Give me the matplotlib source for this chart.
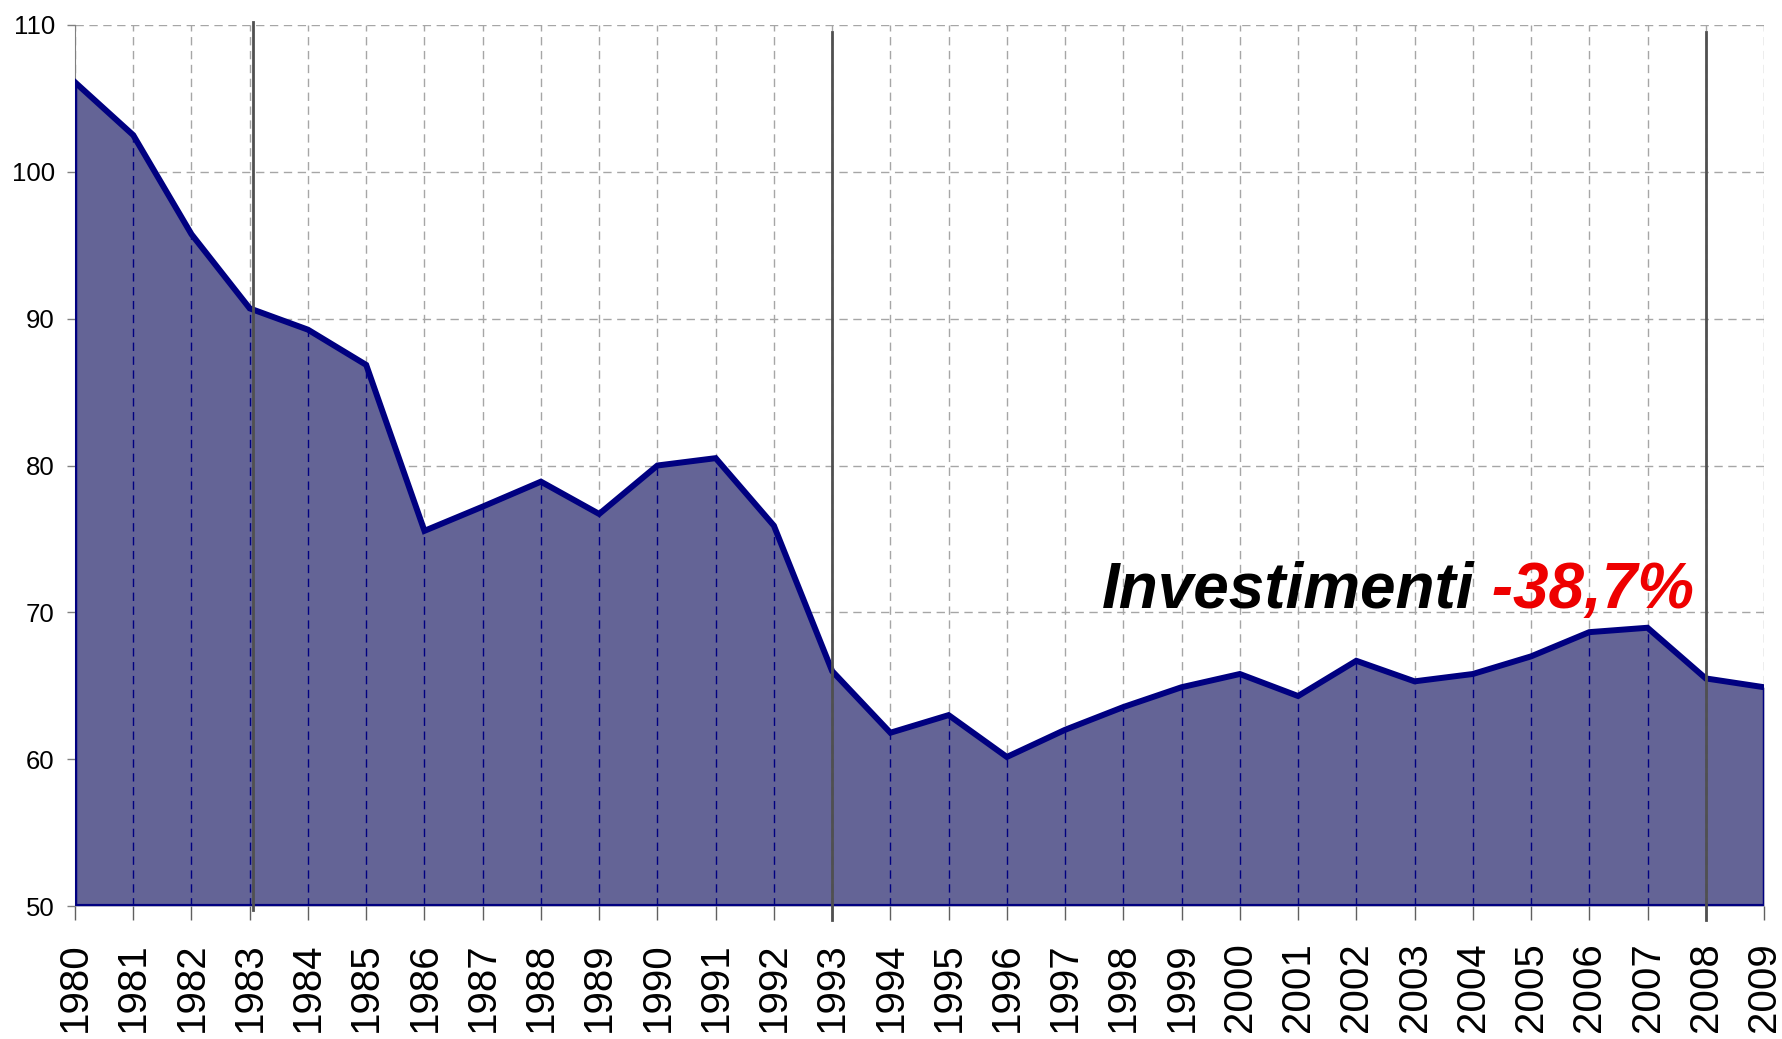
import matplotlib
matplotlib.use("Agg")
import matplotlib.pyplot as plt
import matplotlib.transforms as mtransforms

years = list(range(1980, 2010))
values = [106.1, 102.5, 95.75, 90.7, 89.25, 86.85, 75.55, 77.2, 78.9, 76.7,
          80.0, 80.5, 75.9, 66.0, 61.8, 63.0, 60.15, 62.0, 63.55, 64.9,
          65.8, 64.3, 66.7, 65.3, 65.8, 67.0, 68.65, 68.95, 65.5, 64.9]
marker_years = [1983, 1993, 2008]
yticks = [50, 60, 70, 80, 90, 100, 110]
label_main = "Investimenti"
label_pct = " -38,7%"

plt.rcParams['font.family'] = ['Liberation Sans', 'DejaVu Sans']

fig = plt.figure(figsize=(17.82, 10.39), dpi=100)
ax = fig.add_axes([75/1782, 1-906/1039, (1764-75)/1782, (906-25)/1039])

ax.set_xlim(1980, 2009)
ax.set_ylim(50, 110)

# grid behind
for yv in yticks[1:]:
    ax.axhline(yv, color='#a6a6a6', lw=1.0, ls=(0, (6, 4)), zorder=0)
for x in years:
    ax.axvline(x, color='#a6a6a6', lw=1.0, ls=(0, (6, 4)), zorder=0)

ax.fill_between(years, 50, values, color='#646496', zorder=1, lw=0)
# drop lines
ax.vlines(years, 50, values, colors='#000080', lw=1.0, linestyles=(0, (6, 4)), zorder=2)
ax.plot(years, values, color='#000080', lw=4.3, zorder=3, solid_joinstyle='miter')
ax.plot([years[0], years[0]], [50, values[0]], color='#000080', lw=2.5, zorder=3)
ax.plot([years[-1], years[-1]], [50, values[-1]], color='#000080', lw=2.5, zorder=3)
ax.axhline(50, color='#000080', lw=3.0, zorder=3)

trans = mtransforms.blended_transform_factory(ax.transData, ax.transAxes)
for i, my in enumerate(marker_years):
    if i == 0:
        ax.plot([my + 0.05, my + 0.05], [-0.004, 1.003], transform=trans, color='#505050',
                lw=2.0, clip_on=False, zorder=4)
    else:
        ax.plot([my, my], [-0.016, 0.992], transform=trans, color='#505050',
                lw=2.0, clip_on=False, zorder=4)

for s in ['top', 'right']:
    ax.spines[s].set_visible(False)
ax.spines['left'].set_color('#808080')
ax.spines['bottom'].set_visible(False)

ax.set_yticks(yticks)
ax.set_yticklabels([str(v) for v in yticks], fontsize=18.5)
ax.set_xticks(years)
ax.set_xticklabels([str(y) for y in years], rotation=90, fontsize=29)
ax.tick_params(axis='y', length=5.5, width=1, color='#808080', pad=9)
ax.tick_params(axis='x', length=10, width=1, color='#606060', pad=16)

t1 = ax.text(1997.63, 70.3, label_main, fontsize=46, fontweight='bold', style='italic',
             color='black', ha='left', va='baseline', zorder=5)
ax.annotate(label_pct, xy=(1, 0), xycoords=t1, fontsize=46, fontweight='bold',
            style='italic', color='#ee0000', ha='left', va='bottom', zorder=5)

fig.savefig('out.png', dpi=100)
